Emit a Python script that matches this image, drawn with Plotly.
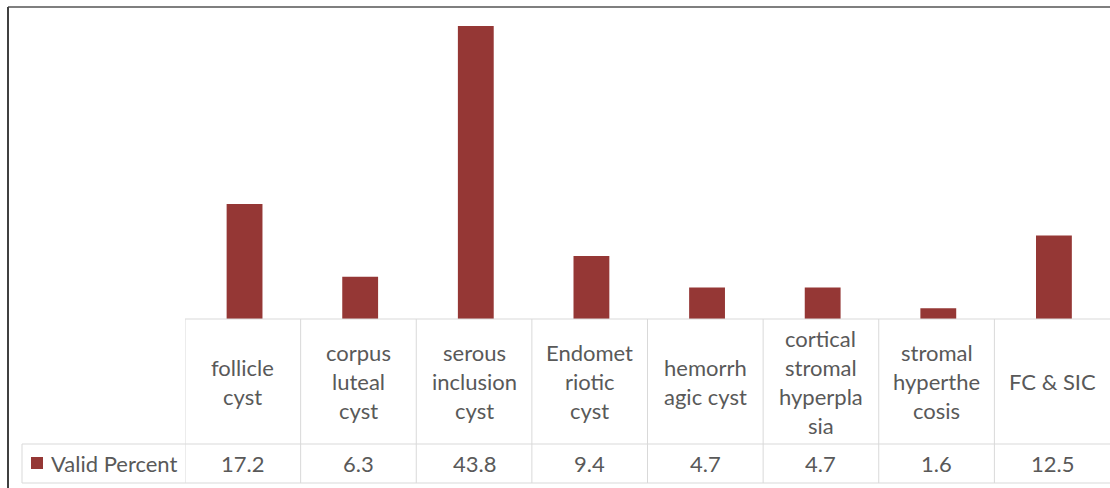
import plotly.graph_objects as go

categories = ["follicle<br>cyst", "corpus<br>luteal<br>cyst", "serous<br>inclusion<br>cyst",
              "Endomet<br>riotic<br>cyst", "hemorrh<br>agic cyst", "cortical<br>stromal<br>hyperpla<br>sia",
              "stromal<br>hyperthe<br>cosis", "FC & SIC"]
values = [17.2, 6.3, 43.8, 9.4, 4.7, 4.7, 1.6, 12.5]
value_labels = ["17.2", "6.3", "43.8", "9.4", "4.7", "4.7", "1.6", "12.5"]
series_name = "Valid Percent"

W, H = 1110, 488
BAR = "#953735"
GRID = "#d9d9d9"
TXT = "#595959"
FONT = "Lato"
FS = 22

def fx(p):
    return p / W

def fy(p):
    return 1 - p / H

base_y = 319
hdr_y = 444
bot_y = 483
left_tbl = 185
leg_left = 22

fig = go.Figure()
idx = list(range(len(values)))
fig.add_trace(go.Bar(x=idx, y=values, marker=dict(color=BAR, line=dict(width=0)),
                     name=series_name, showlegend=False, hoverinfo="skip", offset=-0.14, width=0.31))

fig.update_layout(
    width=W, height=H, margin=dict(l=0, r=0, t=0, b=0),
    paper_bgcolor="white", plot_bgcolor="white",
    xaxis=dict(domain=[fx(left_tbl), 1], range=[-0.5, len(values) - 0.5],
               visible=False, fixedrange=True),
    yaxis=dict(domain=[fy(base_y), fy(18)], range=[0, 45], visible=False, fixedrange=True),
    font=dict(family=FONT, size=FS, color=TXT),
)

shapes = []
def line(x0, y0, x1, y1, color=GRID, width=1):
    shapes.append(dict(type="line", xref="paper", yref="paper", x0=x0, y0=fy(y0), x1=x1, y1=fy(y1),
                       line=dict(color=color, width=width)))

# table horizontals
line(fx(left_tbl), base_y, 1, base_y)
line(fx(leg_left), hdr_y, 1, hdr_y)
line(fx(leg_left), bot_y, 1, bot_y)
# verticals
line(fx(leg_left), hdr_y, fx(leg_left), bot_y)
for i in range(len(values)):
    shapes.append(dict(type="line", xref="x", yref="paper", x0=i - 0.5, x1=i - 0.5,
                       y0=fy(base_y), y1=fy(bot_y), line=dict(color=GRID, width=1)))
# legend key
shapes.append(dict(type="rect", xref="paper", yref="paper", x0=fx(31), x1=fx(43), y0=fy(469), y1=fy(457),
                   fillcolor=BAR, line=dict(width=0)))
# outer border (top and left)
line(fx(8), 7, 1, 7, color="#7f7f7f", width=2)
line(fx(8), 7, fx(8), H, color="#404040", width=2)

annotations = []
hdr_center = (base_y + hdr_y) / 2
lh = 29
for i, lab in enumerate(categories):
    lines = lab.split("<br>")
    n = len(lines)
    for k, t in enumerate(lines):
        yc = hdr_center + (k - (n - 1) / 2) * lh
        annotations.append(dict(xref="x", yref="paper", x=i, y=fy(yc), text=t, showarrow=False,
                                xanchor="center", yanchor="middle", font=dict(family=FONT, size=FS, color=TXT)))
val_center = (hdr_y + bot_y) / 2
for i, t in enumerate(value_labels):
    annotations.append(dict(xref="x", yref="paper", x=i, y=fy(val_center), text=t, showarrow=False,
                            xanchor="center", yanchor="middle", font=dict(family=FONT, size=FS, color=TXT)))
annotations.append(dict(xref="paper", yref="paper", x=fx(49), y=fy(val_center), text=series_name,
                        showarrow=False, xanchor="left", yanchor="middle",
                        font=dict(family=FONT, size=FS, color=TXT)))

fig.update_layout(shapes=shapes, annotations=annotations)
fig.write_html("out.html", config={"displayModeBar": False})
